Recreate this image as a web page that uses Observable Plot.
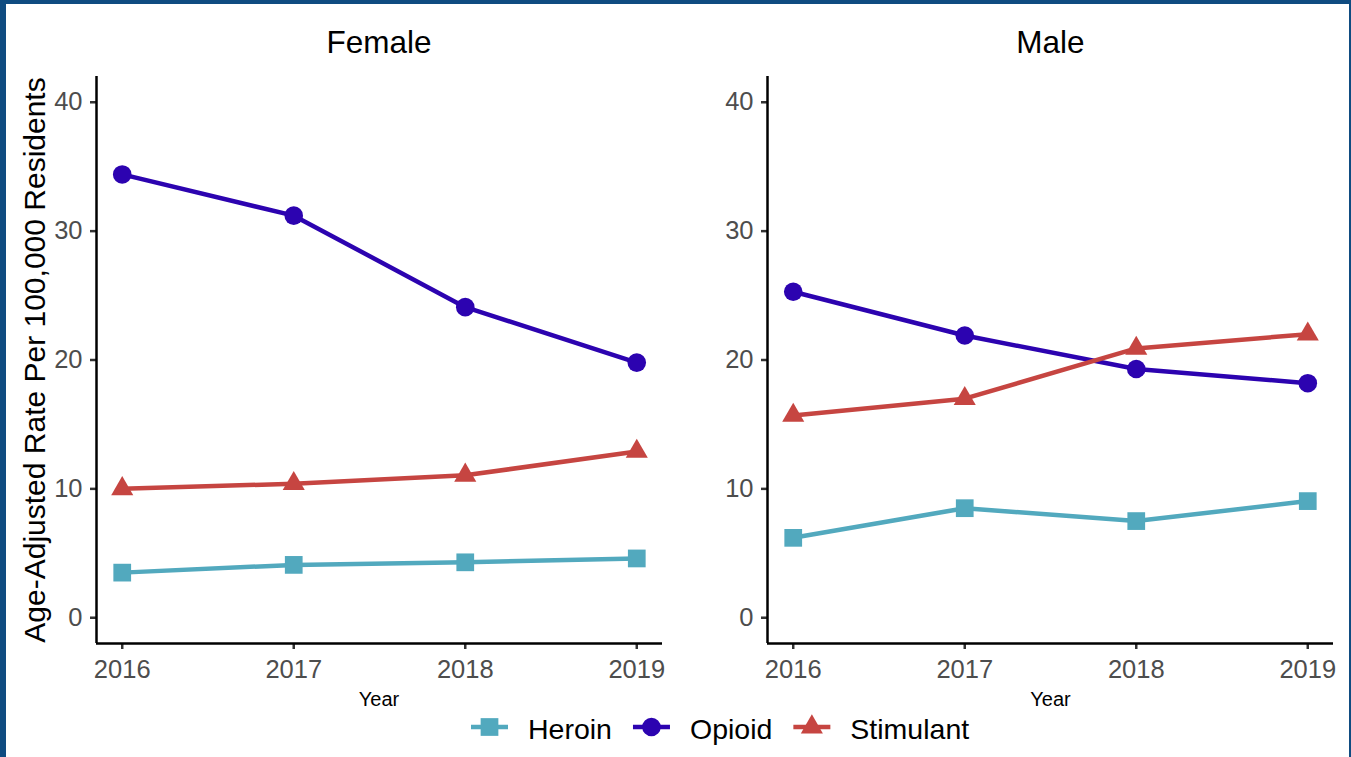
<!DOCTYPE html>
<html><head><meta charset="utf-8">
<script src="https://cdn.jsdelivr.net/npm/d3@7"></script>
<script src="https://cdn.jsdelivr.net/npm/@observablehq/plot@0.6"></script>
<style>
body{margin:0;background:#fff;}
#wrap{position:relative;width:1351px;height:757px;background:#fff;overflow:hidden;font-family:"Liberation Sans",Arial,sans-serif;}
.panel{position:absolute;top:0;}
.bar{position:absolute;background:#0f4c81;}
#overlay{position:absolute;left:0;top:0;pointer-events:none;font-family:"Liberation Sans",Arial,sans-serif;}
</style></head><body>
<div id="wrap">
  <div id="p1" class="panel" style="left:0px"></div>
  <div id="p2" class="panel" style="left:671px"></div>
  <svg id="overlay" width="1351" height="757"></svg>
  <div class="bar" style="left:0;top:0;width:1351px;height:4px"></div>
  <div class="bar" style="left:0;top:0;width:6px;height:757px"></div>
  <div class="bar" style="right:0;top:0;width:2px;height:757px"></div>
</div>
<script>
const years = [2016, 2017, 2018, 2019];
const drugs = ["Heroin", "Opioid", "Stimulant"];
const colors = ["#52a9be", "#2c03b0", "#c64541"];
const symbols = ["square", "circle", "triangle"];
const yTicks = [0, 10, 20, 30, 40];
const panels = ["Female", "Male"];

const femaleHeroin = [3.5, 4.1, 4.3, 4.6];
const femaleOpioid = [34.4, 31.2, 24.1, 19.8];
const femaleStimulant = [10.0, 10.4, 11.05, 12.9];
const maleHeroin = [6.2, 8.5, 7.5, 9.05];
const maleOpioid = [25.3, 21.9, 19.3, 18.2];
const maleStimulant = [15.7, 17.0, 20.9, 22.0];

const dotR = {Heroin: 10, Opioid: 9.3, Stimulant: 8.2};
const FONT = "Liberation Sans, Arial, sans-serif";

function panel(values) {
  const data = [];
  drugs.forEach((d, i) => years.forEach((y, j) => data.push({year: y, drug: d, value: values[i][j]})));
  const marks = [
    Plot.axisX({ticks: years, tickFormat: d => String(d), tickSize: 6, tickPadding: 10, fontSize: 25.5,
      fill: "#4d4d4d", stroke: "#333", strokeWidth: 2.5, label: null}),
    Plot.axisY({ticks: yTicks, tickSize: 6, tickPadding: 8, fontSize: 25.5,
      fill: "#4d4d4d", stroke: "#333", strokeWidth: 2.5, label: null}),
    Plot.ruleX([2015.85], {stroke: "#000", strokeWidth: 2.5}),
    Plot.ruleY([-2], {stroke: "#000", strokeWidth: 2.5}),
    Plot.lineY(data, {x: "year", y: "value", z: "drug", stroke: "drug", strokeWidth: 4.5})
  ];
  drugs.forEach((d, i) => {
    marks.push(Plot.dot(data.filter(r => r.drug === d), {x: "year", y: "value", symbol: symbols[i], r: dotR[d], fill: "drug", stroke: "none"}));
  });
  return Plot.plot({
    width: 671, height: 720, marginTop: 76, marginBottom: 77, marginLeft: 96, marginRight: 9,
    style: {fontFamily: FONT, background: "transparent", overflow: "visible"},
    x: {domain: [2015.85, 2019.15]},
    y: {domain: [-2, 42]},
    color: {domain: drugs, range: colors},
    marks
  });
}

document.getElementById("p1").appendChild(panel([femaleHeroin, femaleOpioid, femaleStimulant]));
document.getElementById("p2").appendChild(panel([maleHeroin, maleOpioid, maleStimulant]));

const svg = d3.select("#overlay");
// panel titles and x labels
const centers = [379, 1050.5];
panels.forEach((p, i) => {
  svg.append("text").attr("x", centers[i]).attr("y", 53).attr("text-anchor", "middle")
    .attr("font-size", 31.5).attr("fill", "#000").text(p);
  svg.append("text").attr("x", centers[i]).attr("y", 706).attr("text-anchor", "middle")
    .attr("font-size", 20).attr("fill", "#000").text("Year");
});
// y label
svg.append("text").attr("transform", "translate(45,360) rotate(-90)").attr("text-anchor", "middle")
  .attr("font-size", 30).attr("fill", "#000").text("Age-Adjusted Rate Per 100,000 Residents");

// legend
const symTypes = {square: d3.symbolSquare, circle: d3.symbolCircle, triangle: d3.symbolTriangle};
let cx = 471;
const ly = 727;
drugs.forEach((d, i) => {
  const g = svg.append("g");
  g.append("line").attr("x1", cx).attr("x2", cx + 37).attr("y1", ly).attr("y2", ly)
    .attr("stroke", colors[i]).attr("stroke-width", 4.5);
  const r = dotR[d];
  g.append("path").attr("transform", `translate(${cx + 18.5},${ly})`)
    .attr("d", d3.symbol().type(symTypes[symbols[i]]).size(Math.PI * r * r)())
    .attr("fill", colors[i]);
  const t = g.append("text").attr("x", cx + 57).attr("y", 739).attr("font-size", 28.5).attr("fill", "#000").text(d);
  cx = cx + 57 + t.node().getComputedTextLength() + 21;
});
</script>
</body></html>
